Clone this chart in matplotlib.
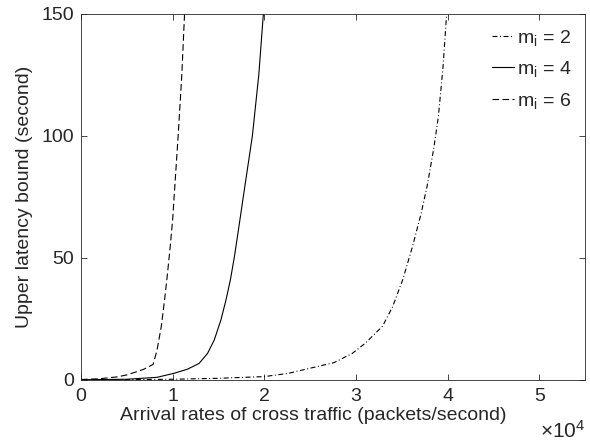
import matplotlib
matplotlib.use("Agg")
import matplotlib.pyplot as plt

plt.rcParams['font.family'] = ['Liberation Sans', 'DejaVu Sans']
plt.rcParams['mathtext.fontset'] = 'custom'
plt.rcParams['mathtext.rm'] = 'Liberation Sans'
plt.rcParams['mathtext.it'] = 'Liberation Sans'
plt.rcParams['mathtext.default'] = 'regular'
plt.rcParams['lines.scale_dashes'] = False

# ---- data (arrival rate in packets/second, latency bound in seconds) ----
rate_m2 = [0, 5000, 10000, 15000, 20000, 22600, 25200, 27600, 29600, 31000,
           32900, 34000, 35100, 36200, 37100, 37800, 38500, 39000, 39500, 39900]
lat_m2 = [0.05, 0.15, 0.3, 0.7, 1.4, 2.7, 5.0, 7.1, 10.9, 15.0,
          22.0, 30.0, 41.0, 55.0, 68.0, 80.0, 95.0, 108.0, 128.0, 150.0]

rate_m4 = [0, 5000, 8300, 10100, 11600, 12890, 13810, 14540, 15270, 15820,
           16300, 16740, 17180, 17660, 18700, 19400, 19900]
lat_m4 = [0.1, 0.3, 1.1, 2.7, 4.4, 6.8, 10.9, 16.4, 24.6, 32.8,
          41.0, 50.5, 61.5, 73.8, 100.0, 125.0, 150.0]

rate_m6 = [0, 2000, 4000, 5000, 6000, 6850, 7870, 8300, 8760, 9120,
           9400, 9700, 10000, 10140, 10600, 11000, 11300]
lat_m6 = [0.2, 0.5, 1.3, 2.1, 3.3, 4.4, 6.4, 12.3, 21.9, 32.8,
          42.3, 53.3, 65.6, 73.8, 100.0, 125.0, 150.0]

labels = [r'$m_i$ = 2', r'$m_i$ = 4', r'$m_i$ = 6']
xtick_values = [0, 10000, 20000, 30000, 40000, 50000]
xtick_labels = ['0', '1', '2', '3', '4', '5']
ytick_values = [0, 50, 100, 150]
x_title = 'Arrival rates of cross traffic (packets/second)'
y_title = 'Upper latency bound (second)'

txt = '#262626'
axc = '#262626'

fig = plt.figure(figsize=(5.9, 4.41), dpi=100)
ax = fig.add_axes([81/590, (441-380)/441, 504/590, 366/441])

lw = 0.8
ax.plot(rate_m2, lat_m2, color='k', lw=lw, linestyle=(0, (3.6, 1.8, 0.7, 1.8)), label=labels[0])
ax.plot(rate_m4, lat_m4, color='k', lw=lw, linestyle='-', label=labels[1])
ax.plot(rate_m6, lat_m6, color='k', lw=lw, linestyle=(0, (4.8, 2.4)), label=labels[2])

ax.set_xlim(0, 55000)
ax.set_ylim(0, 150)
ax.set_xticks(xtick_values)
ax.set_xticklabels(xtick_labels)
ax.set_yticks(ytick_values)

for s in ax.spines.values():
    s.set_color(axc)
    s.set_linewidth(0.6)
ax.tick_params(axis='both', direction='in', length=4, width=0.6, color=axc,
               labelsize=14, labelcolor=txt, top=True, right=True)
ax.tick_params(axis='x', pad=6)
ax.tick_params(axis='y', pad=5)

ax.set_xlabel(x_title, fontsize=14, color=txt)
ax.xaxis.set_label_coords(0.46, -0.075, transform=ax.transAxes)
ax.xaxis.label.set_va('top')
ax.set_ylabel(y_title, fontsize=14, color=txt)
ax.yaxis.set_label_coords(-0.095, 0.5)

fig.text(585/590, 1 - 438/441, r'$\times10^{4}$', fontsize=15, color=txt,
         ha='right', va='baseline')

leg = ax.legend(loc='upper right', frameon=False, fontsize=14, handlelength=1.15,
                handletextpad=0.15, labelspacing=0.6, borderaxespad=0.3)
for t in leg.get_texts():
    t.set_color(txt)

fig.savefig('out.png', dpi=100)
